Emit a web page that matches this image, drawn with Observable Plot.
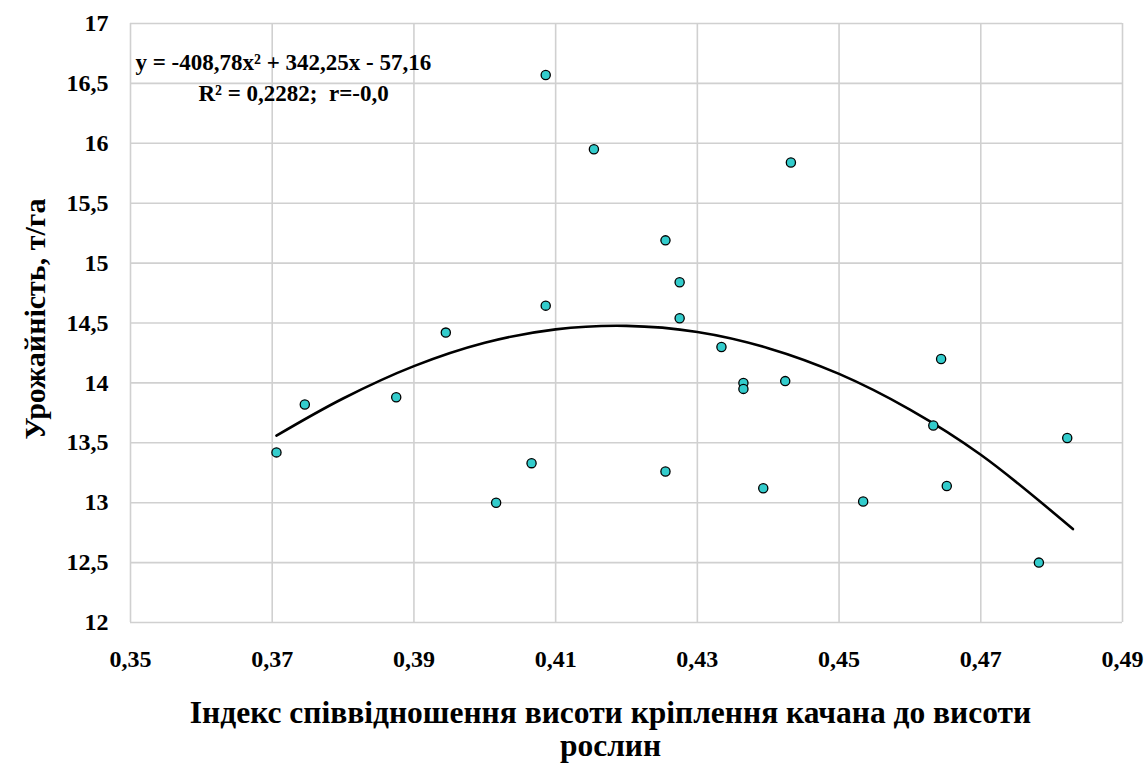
<!DOCTYPE html>
<html>
<head>
<meta charset="utf-8">
<script src="https://cdn.jsdelivr.net/npm/d3@7"></script>
<script src="https://cdn.jsdelivr.net/npm/@observablehq/plot@0.6"></script>
<style>
  html, body { margin: 0; padding: 0; background: #ffffff; }
  #chart svg { display: block; }
</style>
</head>
<body>
<div id="chart"></div>
<script>
// Scatter points
const ratioIndex = [0.3706, 0.3746, 0.3875, 0.3945, 0.4016, 0.4066, 0.4086, 0.4086, 0.4154,
  0.4255, 0.4275, 0.4275, 0.4255, 0.4334, 0.4365, 0.4365, 0.4424, 0.4393, 0.4432,
  0.4534, 0.4644, 0.4633, 0.4652, 0.4782, 0.4822];
const yieldTHa = [13.42, 13.82, 13.88, 14.42, 13.00, 13.33, 14.645, 16.57, 15.95,
  15.19, 14.84, 14.54, 13.26, 14.30, 14.00, 13.95, 14.015, 13.12, 15.84,
  13.01, 14.20, 13.645, 13.14, 12.50, 13.54];

// Trend line
const trendX = [0.3706, 0.38, 0.39, 0.40, 0.41, 0.42, 0.43, 0.44, 0.45, 0.46, 0.47, 0.483];
const trendY = [13.56, 13.87, 14.14, 14.335, 14.447, 14.476, 14.425, 14.29, 14.075, 13.777, 13.40, 12.78];

// Axis ticks and texts
const xTicks = [0.35, 0.37, 0.39, 0.41, 0.43, 0.45, 0.47, 0.49];
const yTicks = [12, 12.5, 13, 13.5, 14, 14.5, 15, 15.5, 16, 16.5, 17];
const xTitleLine1 = "Індекс співвідношення висоти кріплення качана до висоти";
const xTitleLine2 = "рослин";
const yTitle = "Урожайність, т/га";
const equationLine = "y = -408,78x² + 342,25x - 57,16";
const statsLine = "R² = 0,2282;  r=-0,0";

const points = ratioIndex.map((x, i) => ({x, y: yieldTHa[i]}));
const trend = trendX.map((x, i) => ({x, y: trendY[i]}));

const fmtX = d => d3.format(".2f")(d).replace(".", ",");
const fmtY = d => (Number.isInteger(d) ? String(d) : String(d).replace(".", ","));

const font = "'Liberation Serif', 'Times New Roman', serif";

const chart = Plot.plot({
  width: 1145,
  height: 767,
  marginLeft: 130,
  marginRight: 23,
  marginTop: 23,
  marginBottom: 145,
  style: {fontFamily: font, background: "#ffffff", color: "#000"},
  x: {domain: [0.35, 0.49]},
  y: {domain: [12, 17]},
  marks: [
    Plot.ruleX(xTicks, {stroke: "#d0d0d0", strokeWidth: 1.6}),
    Plot.ruleY(yTicks, {stroke: "#d0d0d0", strokeWidth: 1.6}),
    Plot.axisX(xTicks, {tickSize: 0, tickPadding: 27, tickFormat: fmtX, fontSize: 24, fontWeight: "bold", label: null}),
    Plot.axisY(yTicks, {tickSize: 0, tickPadding: 22, tickFormat: fmtY, fontSize: 24, fontWeight: "bold", label: null}),
    Plot.line(trend, {x: "x", y: "y", stroke: "#000", strokeWidth: 2.6, curve: "catmull-rom"}),
    Plot.dot(points, {x: "x", y: "y", r: 4.6, fill: "#33cccc", stroke: "#000", strokeWidth: 1.3}),
    Plot.text([equationLine], {frameAnchor: "top-left", dx: 5, dy: 39, textAnchor: "start", lineAnchor: "middle", fontSize: 23, fontWeight: "bold"}),
    Plot.text([statsLine], {frameAnchor: "top-left", dx: 68, dy: 70, textAnchor: "start", lineAnchor: "middle", fontSize: 23, fontWeight: "bold"}),
    Plot.text([xTitleLine1], {frameAnchor: "bottom", dx: -16, dy: 90, textAnchor: "middle", lineAnchor: "middle", fontSize: 31.5, fontWeight: "bold"}),
    Plot.text([xTitleLine2], {frameAnchor: "bottom", dx: -16, dy: 123, textAnchor: "middle", lineAnchor: "middle", fontSize: 31.5, fontWeight: "bold"}),
    Plot.text([yTitle], {frameAnchor: "left", dx: -95, dy: -4, rotate: -90, textAnchor: "middle", lineAnchor: "middle", fontSize: 30, fontWeight: "bold"})
  ]
});
document.getElementById("chart").appendChild(chart);
</script>
</body>
</html>
